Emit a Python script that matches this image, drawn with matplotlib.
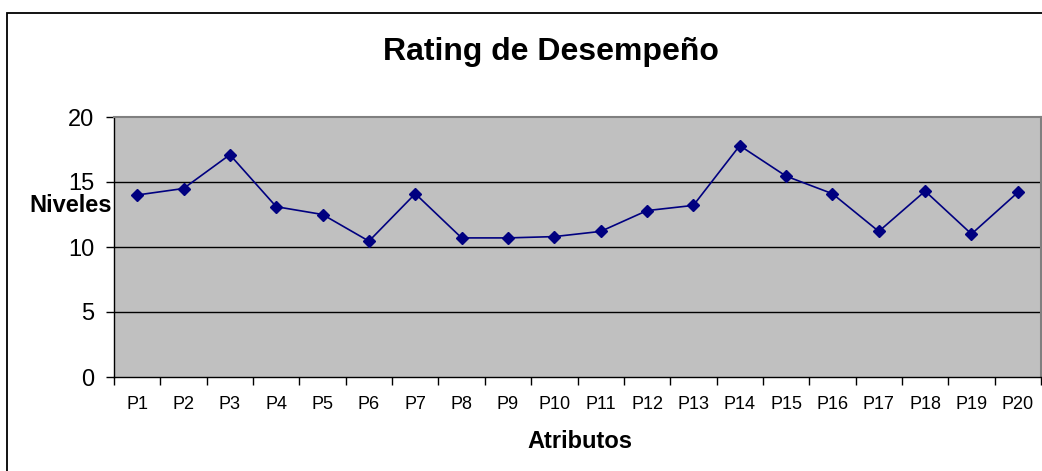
import matplotlib
matplotlib.use("Agg")
import matplotlib.pyplot as plt
from matplotlib.patches import Rectangle
from matplotlib.ticker import FixedLocator, NullFormatter

plt.rcParams['font.family'] = ['Liberation Sans', 'DejaVu Sans']

# datos del grafico
atributos = ['P1', 'P2', 'P3', 'P4', 'P5', 'P6', 'P7', 'P8', 'P9', 'P10',
             'P11', 'P12', 'P13', 'P14', 'P15', 'P16', 'P17', 'P18', 'P19', 'P20']
niveles = [14.0, 14.5, 17.1, 13.1, 12.5, 10.45, 14.1, 10.7, 10.7, 10.8,
           11.2, 12.8, 13.2, 17.8, 15.45, 14.1, 11.2, 14.3, 11.0, 14.2]
y_ticks = [0, 5, 10, 15, 20]

W, H = 1042, 471
fig = plt.figure(figsize=(W / 100, H / 100), dpi=100)

# marco exterior (cortado a la derecha y abajo)
fig.patches.append(Rectangle((6.5 / W, -0.1), 1.2, 1 - 13 / H + 0.1,
                             transform=fig.transFigure, fill=False,
                             edgecolor='black', linewidth=1.3))

ax = fig.add_axes([114 / W, 1 - 377 / H, 927 / W, 260 / H])
ax.set_facecolor('#C0C0C0')

x = list(range(len(atributos)))
ax.plot(x, niveles, color='#000080', linewidth=1.2, marker='D',
        markersize=6, markerfacecolor='#000080', markeredgecolor='#000080',
        zorder=3)

ax.set_xlim(-0.5, len(atributos) - 0.5)
ax.set_ylim(0, 20)

# lineas de cuadricula
for v in y_ticks[1:-1]:
    ax.axhline(v, color='black', linewidth=1.0, zorder=1)

ax.set_yticks(y_ticks)
ax.set_yticklabels([str(v) for v in y_ticks], fontsize=17)
ax.tick_params(axis='y', direction='out', length=6, width=1, pad=8)

ax.set_xticks(x)
ax.set_xticklabels(atributos, fontsize=13)
ax.tick_params(axis='x', which='major', length=0, pad=14)
ax.xaxis.set_minor_locator(FixedLocator([i - 0.5 for i in range(len(atributos) + 1)]))
ax.xaxis.set_minor_formatter(NullFormatter())
ax.tick_params(axis='x', which='minor', direction='out', length=6, width=1)

for s in ['top', 'right']:
    ax.spines[s].set_color('#808080')
    ax.spines[s].set_linewidth(1.5)
for s in ['left', 'bottom']:
    ax.spines[s].set_color('black')
    ax.spines[s].set_linewidth(1.0)

fig.text(551 / W, 1 - 52 / H, 'Rating de Desempeño', ha='center', va='center',
         fontsize=23, fontweight='bold')
fig.text(580 / W, 1 - 442 / H, 'Atributos', ha='center', va='center',
         fontsize=17, fontweight='bold')
fig.text(112 / W, 1 - 205 / H, 'Niveles', ha='right', va='center',
         fontsize=17, fontweight='bold')

fig.savefig('out.png', dpi=100)
